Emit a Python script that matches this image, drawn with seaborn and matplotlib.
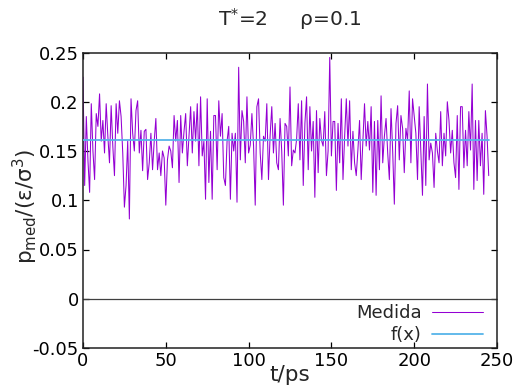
import numpy as np
import pandas as pd
import matplotlib
matplotlib.use("Agg")
import matplotlib.pyplot as plt
import seaborn as sns

# ---- data ----
t_ps = list(range(0, 246))
p_med = [
    # t 0-40
    0.225, 0.115, 0.185, 0.140, 0.108, 0.198, 0.150, 0.121, 0.188, 0.175,
    0.208, 0.160, 0.181, 0.148, 0.198, 0.165, 0.138, 0.196, 0.155, 0.125,
    0.198, 0.168, 0.201, 0.185, 0.148, 0.093, 0.115, 0.160, 0.081, 0.203,
    0.168, 0.150, 0.191, 0.201, 0.148, 0.171, 0.130, 0.170, 0.172, 0.121,
    0.138,
    # t 41-80
    0.168, 0.131, 0.160, 0.183, 0.131, 0.148, 0.125, 0.150, 0.143, 0.095,
    0.141, 0.155, 0.150, 0.133, 0.186, 0.160, 0.181, 0.118, 0.186, 0.148,
    0.170, 0.188, 0.135, 0.166, 0.195, 0.148, 0.190, 0.160, 0.198, 0.135,
    0.205, 0.145, 0.160, 0.101, 0.203, 0.118, 0.170, 0.101, 0.186, 0.186,
    # t 81-122
    0.131, 0.201, 0.165, 0.188, 0.123, 0.115, 0.160, 0.175, 0.101, 0.168,
    0.150, 0.168, 0.098, 0.235, 0.141, 0.191, 0.180, 0.138, 0.205, 0.148,
    0.156, 0.188, 0.155, 0.095, 0.195, 0.203, 0.148, 0.121, 0.165, 0.160,
    0.198, 0.121, 0.166, 0.195, 0.148, 0.178, 0.138, 0.131, 0.183, 0.150,
    0.095, 0.178,
    # t 123-163
    0.175, 0.145, 0.215, 0.135, 0.151, 0.148, 0.162, 0.198, 0.141, 0.201,
    0.115, 0.178, 0.205, 0.131, 0.195, 0.150, 0.180, 0.103, 0.191, 0.128,
    0.183, 0.161, 0.155, 0.190, 0.125, 0.150, 0.245, 0.145, 0.180, 0.180,
    0.110, 0.178, 0.138, 0.203, 0.121, 0.165, 0.203, 0.155, 0.201, 0.131,
    0.170,
    # t 164-204
    0.138, 0.125, 0.151, 0.181, 0.121, 0.160, 0.198, 0.155, 0.180, 0.151,
    0.195, 0.108, 0.180, 0.105, 0.181, 0.131, 0.206, 0.138, 0.165, 0.183,
    0.148, 0.121, 0.193, 0.150, 0.096, 0.178, 0.196, 0.141, 0.186, 0.173,
    0.128, 0.173, 0.161, 0.211, 0.138, 0.203, 0.186, 0.168, 0.121, 0.195,
    0.151,
    # t 205-245
    0.105, 0.185, 0.115, 0.218, 0.141, 0.158, 0.148, 0.113, 0.168, 0.150,
    0.138, 0.190, 0.135, 0.168, 0.145, 0.200, 0.181, 0.148, 0.171, 0.138,
    0.123, 0.186, 0.111, 0.195, 0.195, 0.133, 0.171, 0.135, 0.190, 0.151,
    0.218, 0.111, 0.181, 0.120, 0.181, 0.135, 0.168, 0.106, 0.191, 0.165,
    0.125,
]
fit_value = 0.161
x_ticks = [0, 50, 100, 150, 200, 250]
y_ticks = [-0.05, 0, 0.05, 0.1, 0.15, 0.2, 0.25]
y_tick_labels = ["-0.05", "0", "0.05", "0.1", "0.15", "0.2", "0.25"]

df = pd.DataFrame({"t": t_ps, "p": p_med})
df_fit = pd.DataFrame({"t": [t_ps[0], t_ps[-1]], "p": [fit_value, fit_value]})

sns.set_style("ticks")
plt.rcParams["font.family"] = ["DejaVu Sans"]
plt.rcParams["axes.unicode_minus"] = False
plt.rcParams["mathtext.default"] = "regular"

fig = plt.figure(figsize=(5.19, 3.88), dpi=100)
ax = fig.add_axes([83 / 519, 1 - 348 / 388, 414 / 519, 295.5 / 388])

ax.axhline(0, color="#404040", lw=0.9, zorder=1)
sns.lineplot(data=df, x="t", y="p", ax=ax, color="#9400d3", lw=0.75,
             label="Medida", zorder=2)
sns.lineplot(data=df_fit, x="t", y="p", ax=ax, color="#56b4e9", lw=1.3,
             label="f(x)", zorder=3)

ax.set_xlim(0, 250)
ax.set_ylim(-0.05, 0.25)
ax.set_xticks(x_ticks)
ax.set_xticklabels([str(v) for v in x_ticks])
ax.set_yticks(y_ticks)
ax.set_yticklabels(y_tick_labels)
ax.tick_params(direction="in", top=True, right=True, length=4, width=0.9,
               labelsize=13, pad=3, colors="black")
for s in ax.spines.values():
    s.set_visible(True)
    s.set_linewidth(1.1)
    s.set_color("#202020")

ax.set_xlabel("t/ps", fontsize=15.5, labelpad=-4)
ax.set_ylabel(r"$p_{med}/(ε/σ^{3})$", fontsize=15.5)
ax.yaxis.set_label_coords(-0.105, 0.48)
ax.set_title(r"T$^{*}$=2     ρ=0.1", fontsize=14.5, pad=19)

leg = ax.legend(loc="lower right", bbox_to_anchor=(0.966, 0.012),
                frameon=False, markerfirst=False,
                fontsize=13, handlelength=2.8, handletextpad=0.6,
                labelspacing=0.25, borderaxespad=0.0, borderpad=0.0)

fig.savefig("out.png", dpi=100)
